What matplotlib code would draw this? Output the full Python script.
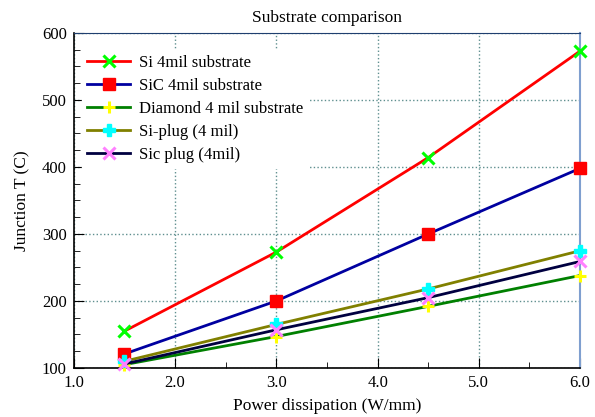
import matplotlib
matplotlib.use("Agg")
import matplotlib.pyplot as plt
from matplotlib.ticker import MultipleLocator

power = [1.5, 3.0, 4.5, 6.0]
si_4mil = [155, 273, 414, 573]
sic_4mil = [121, 200, 300, 398]
diamond_4mil = [105, 147, 192, 238]
si_plug = [110, 165, 218, 275]
sic_plug = [106, 157, 205, 259]

plt.rcParams['font.family'] = ['Liberation Serif', 'DejaVu Serif']

fig = plt.figure(figsize=(5.95, 4.17), dpi=100)
ax = fig.add_axes([0.124, 0.1175, 0.851, 0.8035])

series = [
    (si_4mil, "Si 4mil substrate", "#ff0000", "x", "#00ff00", 8, 2.2),
    (sic_4mil, "SiC 4mil substrate", "#0000a0", "s", "#ff0000", 9, 1.0),
    (diamond_4mil, "Diamond 4 mil substrate", "#008000", "+", "#ffff00", 8, 2.2),
    (si_plug, "Si-plug (4 mil)", "#808000", "P", "#00ffff", 8, 1.0),
    (sic_plug, "Sic plug (4mil)", "#000040", "x", "#ff80ff", 8, 2.2),
]
for vals, lab, lc, mk, mc, ms, mew in series:
    ax.plot(power, vals, color=lc, lw=2, marker=mk, ms=ms,
            mec=mc, mfc=mc, mew=mew, label=lab, zorder=3, clip_on=False)

ax.set_xlim(1.0, 6.0)
ax.set_ylim(100, 600)
ax.xaxis.set_minor_locator(MultipleLocator(0.5))
ax.yaxis.set_major_locator(MultipleLocator(100))
ax.yaxis.set_minor_locator(MultipleLocator(25))
ax.set_xticks([1, 2, 3, 4, 5, 6])
ax.set_xticklabels(["1.0", "2.0", "3.0", "4.0", "5.0", "6.0"])
ax.tick_params(which='both', direction='in', labelsize=12, top=False, right=False)
ax.tick_params(which='major', length=7, pad=5)
ax.tick_params(which='minor', length=4)
ax.grid(True, which='major', color='#5f8f8f', linestyle=':', lw=1.0)

ax.spines['top'].set_color('#1f3f6f')
ax.spines['right'].set_color('#7f9fcf')
ax.spines['right'].set_linewidth(1.5)
ax.spines['left'].set_linewidth(1.2)
ax.spines['bottom'].set_linewidth(1.2)

ax.set_title("Substrate comparison", fontsize=12.5, pad=8)
ax.set_xlabel("Power dissipation (W/mm)", fontsize=12.5, labelpad=5)
ax.set_ylabel("Junction T (C)", fontsize=12.5, labelpad=8)

leg = ax.legend(loc='upper left', bbox_to_anchor=(0.0, 0.975), frameon=True,
                fancybox=False, edgecolor='white', framealpha=1.0,
                fontsize=12, handlelength=2.6, labelspacing=0.42,
                borderpad=0.3, handletextpad=0.5)
leg.set_zorder(5)

fig.savefig("out.png", dpi=100)
